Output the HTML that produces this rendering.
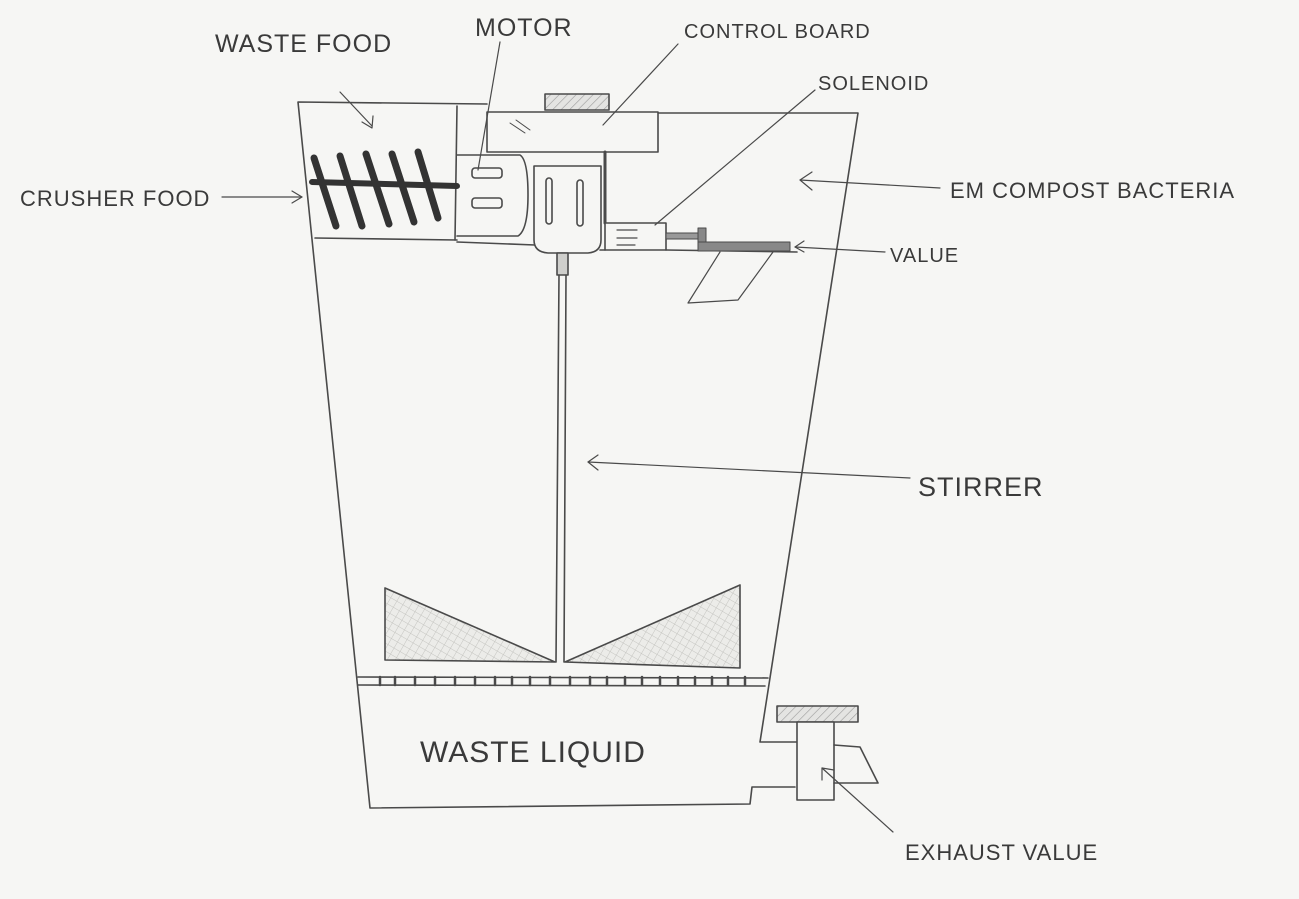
<!DOCTYPE html>
<html><head><meta charset="utf-8"><style>
html,body{margin:0;padding:0;background:#f6f6f4;}
svg{display:block;}
text{font-family:"Liberation Sans",sans-serif;fill:#3a3a3a;letter-spacing:1px;}
</style></head><body>
<svg width="1299" height="899" viewBox="0 0 1299 899" xmlns="http://www.w3.org/2000/svg">
<defs>
<pattern id="h" width="6" height="6" patternUnits="userSpaceOnUse" patternTransform="rotate(45)">
<rect width="6" height="6" fill="#e4e4e2"/><line x1="0" y1="0" x2="0" y2="6" stroke="#999" stroke-width="1.2"/></pattern>
<pattern id="x" width="7" height="7" patternUnits="userSpaceOnUse" patternTransform="rotate(30)">
<rect width="7" height="7" fill="#ecece9"/><line x1="0" y1="0" x2="0" y2="7" stroke="#c4c4c0" stroke-width="1"/><line x1="0" y1="0" x2="7" y2="0" stroke="#c4c4c0" stroke-width="1"/></pattern>
</defs>
<g fill="none" stroke="#4a4a4a" stroke-width="1.6" stroke-linecap="round" stroke-linejoin="round">
<!-- outer body -->
<polyline points="487,104 298,102 370,808 750,804 752,787 795,787"/>
<polyline points="658,113 858,113 760,742 797,742"/>
<!-- top compartment -->
<line x1="457" y1="106" x2="455" y2="240"/>
<line x1="315" y1="238" x2="457" y2="240"/>
<line x1="457" y1="242" x2="535" y2="245"/>
<line x1="600" y1="250" x2="605" y2="250"/>
<line x1="666" y1="250" x2="797" y2="252"/>
<!-- control board -->
<rect x="487" y="112" width="171" height="40" fill="#f6f6f4"/>
<rect x="545" y="94" width="64" height="16" fill="url(#h)"/>
<line x1="510" y1="123" x2="525" y2="133" stroke-width="1"/>
<line x1="516" y1="120" x2="530" y2="130" stroke-width="1"/>
<!-- motor -->
<path d="M457,155 H520 Q528,160 528,195 Q528,230 518,236 H457" fill="#f6f6f4"/>
<rect x="472" y="168" width="30" height="10" rx="3"/>
<rect x="472" y="198" width="30" height="10" rx="3"/>
<!-- gearbox -->
<path d="M534,166 H601 V240 Q601,252 588,253 H548 Q534,252 534,240 Z" fill="#f6f6f4"/>
<rect x="546" y="178" width="6" height="46" rx="3"/>
<rect x="577" y="180" width="6" height="46" rx="3"/>
<line x1="605" y1="152" x2="605" y2="223" stroke-width="3"/>
<!-- solenoid -->
<rect x="605" y="223" width="61" height="27" fill="#f6f6f4"/>
<path d="M617,230 h20 M617,238 h20 M617,245 h18" stroke-width="1.2"/>
<rect x="666" y="233" width="32" height="6" fill="#999" stroke-width="1"/>
<rect x="698" y="228" width="8" height="22" fill="#888" stroke-width="1"/>
<rect x="698" y="242" width="92" height="9" fill="#888" stroke-width="1"/>
<polyline points="720,252 688,303 738,300 773,252" stroke-width="1.2"/>
<!-- crusher -->
<g stroke="#333" stroke-width="7">
<line x1="314" y1="158" x2="336" y2="226"/>
<line x1="340" y1="156" x2="362" y2="226"/>
<line x1="366" y1="154" x2="389" y2="224"/>
<line x1="392" y1="154" x2="414" y2="222"/>
<line x1="418" y1="152" x2="438" y2="218"/>
</g>
<line x1="312" y1="182" x2="457" y2="186" stroke="#333" stroke-width="6"/>
<!-- stirrer -->
<rect x="557" y="253" width="11" height="22" fill="#cfcfcc"/>
<line x1="559" y1="275" x2="556" y2="662"/>
<line x1="566" y1="275" x2="564" y2="662"/>
<polygon points="385,588 385,660 555,662" fill="url(#x)"/>
<polygon points="740,585 740,668 565,662" fill="url(#x)"/>
<!-- perforated plate -->
<line x1="358" y1="677" x2="768" y2="678"/>
<line x1="358" y1="685" x2="765" y2="686"/>
<g stroke-width="2.5">
<path d="M380,677v8 M395,677v8 M415,677v8 M435,677v8 M455,677v8 M475,677v8 M495,677v8 M512,677v8 M530,677v8 M550,677v8 M570,677v8 M590,677v8 M607,677v8 M625,677v8 M642,677v8 M660,677v8 M678,677v8 M695,677v8 M712,677v8 M728,677v8 M745,677v8"/>
</g>
<!-- exhaust valve -->
<rect x="777" y="706" width="81" height="16" fill="url(#h)"/>
<rect x="797" y="722" width="37" height="78" fill="#f6f6f4"/>
<polyline points="834,745 860,747 878,783 834,783"/>
<!-- leaders -->
<g stroke-width="1.2">
<line x1="340" y1="92" x2="372" y2="126"/>
<polyline points="362,122 372,128 373,116"/>
<line x1="500" y1="42" x2="478" y2="170"/>
<line x1="678" y1="44" x2="603" y2="125"/>
<line x1="815" y1="90" x2="655" y2="225"/>
<line x1="940" y1="188" x2="800" y2="180"/>
<polyline points="812,172 800,180 812,190"/>
<line x1="885" y1="252" x2="795" y2="247"/>
<polyline points="804,241 795,247 804,252"/>
<line x1="910" y1="478" x2="588" y2="462"/>
<polyline points="598,455 588,462 598,470"/>
<line x1="222" y1="197" x2="302" y2="197"/>
<polyline points="292,191 302,197 292,203"/>
<line x1="893" y1="832" x2="822" y2="768"/>
<polyline points="822,780 822,768 834,770"/>
</g>
</g>
<text x="215" y="52" font-size="25">WASTE FOOD</text>
<text x="475" y="36" font-size="25">MOTOR</text>
<text x="684" y="38" font-size="20">CONTROL BOARD</text>
<text x="818" y="90" font-size="20">SOLENOID</text>
<text x="950" y="198" font-size="22">EM COMPOST BACTERIA</text>
<text x="890" y="262" font-size="20">VALUE</text>
<text x="918" y="496" font-size="27">STIRRER</text>
<text x="20" y="206" font-size="22">CRUSHER FOOD</text>
<text x="420" y="762" font-size="30">WASTE LIQUID</text>
<text x="905" y="860" font-size="22">EXHAUST VALUE</text>
</svg>
</body></html>
